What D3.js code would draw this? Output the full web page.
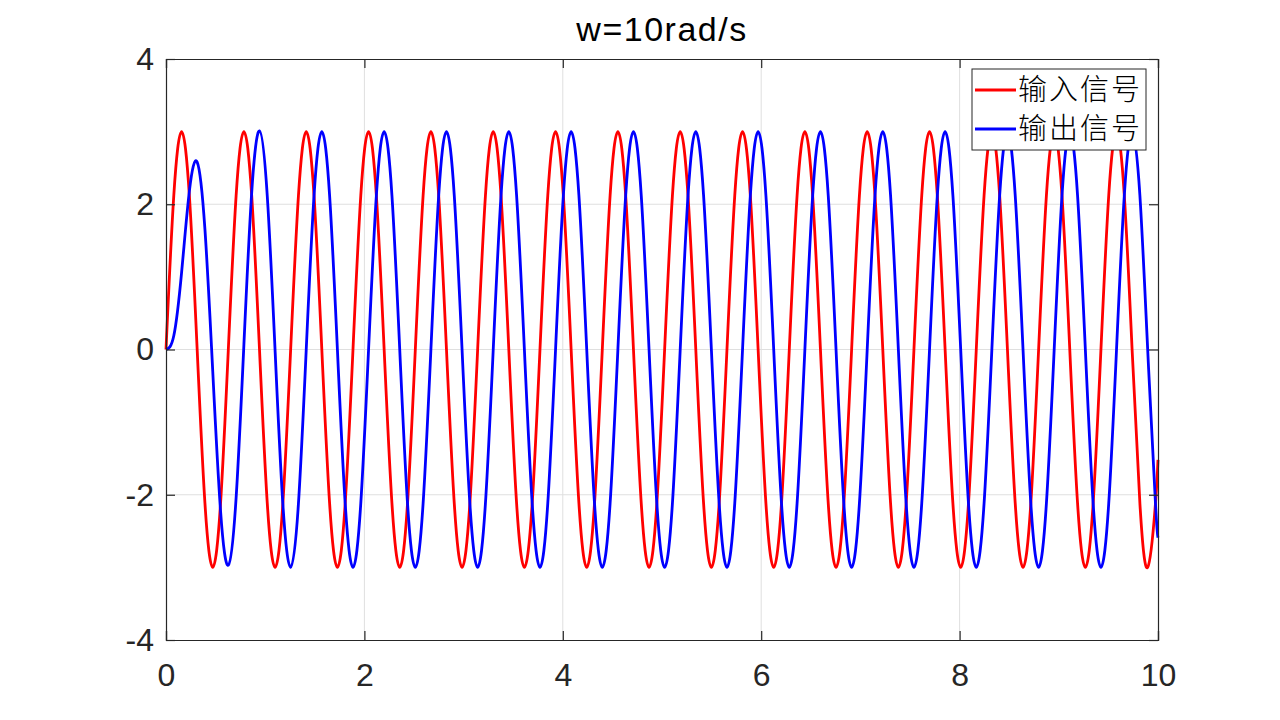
<!DOCTYPE html>
<html>
<head>
<meta charset="utf-8">
<script src="https://cdn.jsdelivr.net/npm/d3@7"></script>
<style>
  body { margin: 0; background: #fff; }
  svg { display: block; }
</style>
</head>
<body>
<svg width="1280" height="720"></svg>
<script>
// time samples (s), every 1/8 period
const t = [
  0, 0.0785, 0.1571, 0.2356, 0.3142, 0.3927, 0.4712, 0.5498,
  0.6283, 0.7069, 0.7854, 0.8639, 0.9425, 1.0210, 1.0996, 1.1781,
  1.2566, 1.3352, 1.4137, 1.4923, 1.5708, 1.6493, 1.7279, 1.8064,
  1.8850, 1.9635, 2.0420, 2.1206, 2.1991, 2.2777, 2.3562, 2.4347,
  2.5133, 2.5918, 2.6704, 2.7489, 2.8274, 2.9060, 2.9845, 3.0631,
  3.1416, 3.2201, 3.2987, 3.3772, 3.4558, 3.5343, 3.6128, 3.6914,
  3.7699, 3.8485, 3.9270, 4.0055, 4.0841, 4.1626, 4.2412, 4.3197,
  4.3982, 4.4768, 4.5553, 4.6339, 4.7124, 4.7909, 4.8695, 4.9480,
  5.0265, 5.1051, 5.1836, 5.2622, 5.3407, 5.4192, 5.4978, 5.5763,
  5.6549, 5.7334, 5.8119, 5.8905, 5.9690, 6.0476, 6.1261, 6.2046,
  6.2832, 6.3617, 6.4403, 6.5188, 6.5973, 6.6759, 6.7544, 6.8330,
  6.9115, 6.9900, 7.0686, 7.1471, 7.2257, 7.3042, 7.3827, 7.4613,
  7.5398, 7.6184, 7.6969, 7.7754, 7.8540, 7.9325, 8.0111, 8.0896,
  8.1681, 8.2467, 8.3252, 8.4038, 8.4823, 8.5608, 8.6394, 8.7179,
  8.7965, 8.8750, 8.9535, 9.0321, 9.1106, 9.1892, 9.2677, 9.3462,
  9.4248, 9.5033, 9.5819, 9.6604, 9.7389, 9.8175, 9.8960, 9.9746,
  10
];

// 输入信号
const input = [
  0, 2.12, 3, 2.12, 0, -2.12, -3, -2.12,
  0, 2.12, 3, 2.12, 0, -2.12, -3, -2.12,
  0, 2.12, 3, 2.12, 0, -2.12, -3, -2.12,
  0, 2.12, 3, 2.12, 0, -2.12, -3, -2.12,
  0, 2.12, 3, 2.12, 0, -2.12, -3, -2.12,
  0, 2.12, 3, 2.12, 0, -2.12, -3, -2.12,
  0, 2.12, 3, 2.12, 0, -2.12, -3, -2.12,
  0, 2.12, 3, 2.12, 0, -2.12, -3, -2.12,
  0, 2.12, 3, 2.12, 0, -2.12, -3, -2.12,
  0, 2.12, 3, 2.12, 0, -2.12, -3, -2.12,
  0, 2.12, 3, 2.12, 0, -2.12, -3, -2.12,
  0, 2.12, 3, 2.12, 0, -2.12, -3, -2.12,
  0, 2.12, 3, 2.12, 0, -2.12, -3, -2.12,
  0, 2.12, 3, 2.12, 0, -2.12, -3, -2.12,
  0, 2.12, 3, 2.12, 0, -2.12, -3, -2.12,
  0, 2.12, 3, 2.12, 0, -2.12, -3, -2.12,
  -1.52
];

// 输出信号
const output = [
  0, 0.19, 1.06, 2.18, 2.58, 1.65, -0.30, -2.22,
  -2.97, -2.04, 0.07, 2.16, 3.01, 2.11, -0.01, -2.13,
  -3, -2.12, 0, 2.12, 3, 2.12, 0, -2.12,
  -3, -2.12, 0, 2.12, 3, 2.12, 0, -2.12,
  -3, -2.12, 0, 2.12, 3, 2.12, 0, -2.12,
  -3, -2.12, 0, 2.12, 3, 2.12, 0, -2.12,
  -3, -2.12, 0, 2.12, 3, 2.12, 0, -2.12,
  -3, -2.12, 0, 2.12, 3, 2.12, 0, -2.12,
  -3, -2.12, 0, 2.12, 3, 2.12, 0, -2.12,
  -3, -2.12, 0, 2.12, 3, 2.12, 0, -2.12,
  -3, -2.12, 0, 2.12, 3, 2.12, 0, -2.12,
  -3, -2.12, 0, 2.12, 3, 2.12, 0, -2.12,
  -3, -2.12, 0, 2.12, 3, 2.12, 0, -2.12,
  -3, -2.12, 0, 2.12, 3, 2.12, 0, -2.12,
  -3, -2.12, 0, 2.12, 3, 2.12, 0, -2.12,
  -3, -2.12, 0, 2.12, 3, 2.12, 0, -2.12,
  -2.59
];

const xTicks = [0, 2, 4, 6, 8, 10];
const yTicks = [-4, -2, 0, 2, 4];
const seriesNames = ["输入信号", "输出信号"];
const seriesColors = ["#ff0000", "#0000ff"];
const title = "w=10rad/s";

const svg = d3.select("svg"),
  margin = { top: 59, right: 122, bottom: 80, left: 166 },
  width = 1280 - margin.left - margin.right,
  height = 720 - margin.top - margin.bottom,
  g = svg.append("g")
    .attr("transform", "translate(" + margin.left + "," + margin.top + ")");

const x = d3.scaleLinear().domain([0, 10]).range([0, width]);
const y = d3.scaleLinear().domain([-4, 4]).range([height, 0]);

const axisColor = "#262626";
const tickFont = "Liberation Sans, Arial, Helvetica, sans-serif";

// grid
g.append("g").selectAll("line").data(xTicks.slice(1, -1)).enter().append("line")
  .attr("x1", d => x(d)).attr("x2", d => x(d))
  .attr("y1", 0).attr("y2", height)
  .attr("stroke", "#dfdfdf").attr("stroke-width", 1);
g.append("g").selectAll("line").data(yTicks.slice(1, -1)).enter().append("line")
  .attr("y1", d => y(d)).attr("y2", d => y(d))
  .attr("x1", 0).attr("x2", width)
  .attr("stroke", "#dfdfdf").attr("stroke-width", 1);

// lines
const line = d3.line()
  .x(d => x(d[0]))
  .y(d => y(d[1]))
  .curve(d3.curveNatural);

[input, output].forEach((vals, i) => {
  g.append("path")
    .datum(t.map((tt, j) => [tt, vals[j]]))
    .attr("fill", "none")
    .attr("stroke", seriesColors[i])
    .attr("stroke-width", 2.8)
    .attr("d", line);
});

// axes: ticks point inward on all four sides
const tickLen = 9;
const bottomAxis = d3.axisBottom(x).tickValues(xTicks).tickSize(-tickLen).tickPadding(23).tickFormat(d3.format("d"));
const topAxis = d3.axisTop(x).tickValues(xTicks).tickSize(-tickLen).tickFormat("");
const leftAxis = d3.axisLeft(y).tickValues(yTicks).tickSize(-tickLen).tickPadding(12).tickFormat(d => d < 0 ? "-" + Math.abs(d) : d);
const rightAxis = d3.axisRight(y).tickValues(yTicks).tickSize(-tickLen).tickFormat("");

function styleAxis(sel) {
  sel.selectAll("path").attr("stroke", axisColor).attr("stroke-width", 1.2);
  sel.selectAll("line").attr("stroke", axisColor).attr("stroke-width", 1.2);
  sel.selectAll("text")
    .attr("fill", axisColor)
    .style("font-family", tickFont)
    .style("font-size", "32px");
}

g.append("g").attr("transform", "translate(0," + height + ")").call(bottomAxis).call(styleAxis);
g.append("g").call(topAxis).call(styleAxis);
g.append("g").call(leftAxis).call(styleAxis);
g.append("g").attr("transform", "translate(" + width + ",0)").call(rightAxis).call(styleAxis);

// title
svg.append("text")
  .attr("x", margin.left + width / 2)
  .attr("y", 41)
  .attr("text-anchor", "middle")
  .style("font-family", tickFont)
  .style("font-size", "34px")
  .style("letter-spacing", "1.5px")
  .attr("fill", "#000")
  .text(title);

// legend
const legend = svg.append("g").attr("transform", "translate(972,69)");
legend.append("rect")
  .attr("width", 174).attr("height", 81)
  .attr("fill", "#fff").attr("stroke", axisColor).attr("stroke-width", 1);

seriesNames.forEach((name, i) => {
  const ly = 21 + i * 39;
  legend.append("line")
    .attr("x1", 3).attr("x2", 44)
    .attr("y1", ly).attr("y2", ly)
    .attr("stroke", seriesColors[i]).attr("stroke-width", 2.8);
  legend.append("text")
    .attr("x", 46).attr("y", ly)
    .attr("dy", "0.36em")
    .style("font-family", "Noto Sans CJK SC")
    .style("font-weight", 300)
    .style("font-size", "29px")
    .style("letter-spacing", "2px")
    .attr("fill", "#000")
    .text(name);
});
</script>
</body>
</html>
